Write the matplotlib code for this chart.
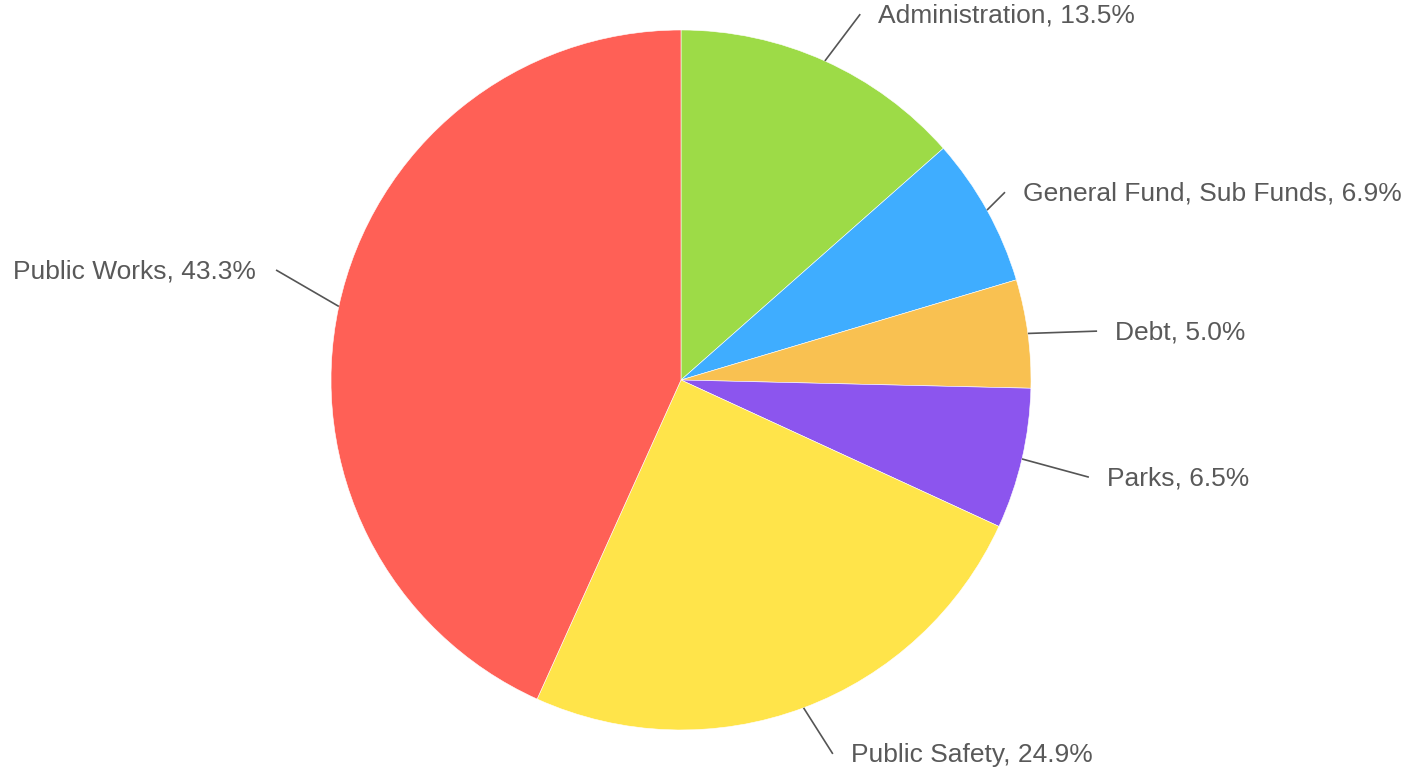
import matplotlib.pyplot as plt
import numpy as np

plt.rcParams['font.family'] = ['Liberation Sans', 'DejaVu Sans']

# Budget share by department (percent), clockwise from 12 o'clock
categories = ['Administration', 'General Fund, Sub Funds', 'Debt', 'Parks',
              'Public Safety', 'Public Works']
shares = [13.5, 6.9, 5.0, 6.5, 24.9, 43.3]
colors = ['#9ddb47', '#3fadff', '#f9c151', '#8c55ee', '#ffe44a', '#ff6056']

# where each leader line ends: (radius as fraction of pie radius, angle in deg)
label_anchor = [(1.164, 63.9), (1.07, 30.1), (1.197, 6.7),
                (1.198, -13.4), (1.153, -67.9), (1.199, 164.8)]

W, H = 1423, 774
cx, cy, R = 681, 380, 350   # pie centre and radius in pixels

fig = plt.figure(figsize=(W / 100, H / 100), dpi=100)
ax = fig.add_axes([0, 0, 1, 1])

ax.pie(shares, colors=colors, startangle=90, counterclock=False, radius=1,
       wedgeprops=dict(edgecolor='white', linewidth=0.4))

ax.set_xlim(-cx / R, (W - cx) / R)
ax.set_ylim(-(H - cy) / R, cy / R)
ax.axis('off')

total = sum(shares)
cum = 0
for name, val, (r_end, a_end) in zip(categories, shares, label_anchor):
    mid = cum + val / 2
    cum += val
    ang = np.deg2rad(90 - mid / total * 360)
    x0, y0 = np.cos(ang), np.sin(ang)
    x1 = r_end * np.cos(np.deg2rad(a_end))
    y1 = r_end * np.sin(np.deg2rad(a_end))
    ax.plot([x0, x1], [y0, y1], color='#555555', lw=1.2, solid_capstyle='butt')
    right = x1 >= 0
    gap = 0.051 if right else -0.058
    ax.text(x1 + gap, y1 - 0.004, f'{name}, {val:.1f}%', fontsize=19,
            color='#595959', ha='left' if right else 'right', va='center')

fig.savefig('out.png', dpi=100, facecolor='white')
